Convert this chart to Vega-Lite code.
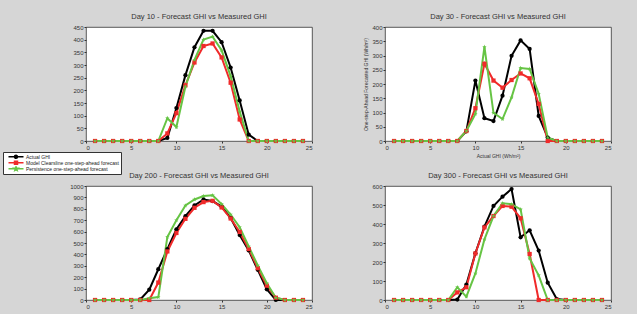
{
"$schema": "https://vega.github.io/schema/vega-lite/v6.json",
"background": "#d6d6d6",
"padding": {"left": 2, "top": 12, "right": 25, "bottom": 8},
"config": {
 "font": "Liberation Sans",
 "view": {"fill": "white", "stroke": "#333", "strokeWidth": 0.8},
 "axis": {"domain": false, "grid": false, "format": "d", "labelFontSize": 6, "labelColor": "#333", "tickColor": "#333", "tickSize": 2, "labelPadding": 1, "titleFontSize": 5, "titleFontWeight": "normal", "titleColor": "#333", "titlePadding": 3},
 "title": {"fontSize": 7.5, "fontWeight": "normal", "color": "#333", "offset": 4, "anchor": "middle"}
},
"data": {"values": [
{"day":10,"hour":1,"series":"actual","ghi":0},{"day":10,"hour":2,"series":"actual","ghi":0},{"day":10,"hour":3,"series":"actual","ghi":0},{"day":10,"hour":4,"series":"actual","ghi":0},{"day":10,"hour":5,"series":"actual","ghi":0},{"day":10,"hour":6,"series":"actual","ghi":0},{"day":10,"hour":7,"series":"actual","ghi":0},{"day":10,"hour":8,"series":"actual","ghi":0},{"day":10,"hour":9,"series":"actual","ghi":12},{"day":10,"hour":10,"series":"actual","ghi":130},{"day":10,"hour":11,"series":"actual","ghi":260},{"day":10,"hour":12,"series":"actual","ghi":370},{"day":10,"hour":13,"series":"actual","ghi":435},{"day":10,"hour":14,"series":"actual","ghi":435},{"day":10,"hour":15,"series":"actual","ghi":390},{"day":10,"hour":16,"series":"actual","ghi":290},{"day":10,"hour":17,"series":"actual","ghi":160},{"day":10,"hour":18,"series":"actual","ghi":25},{"day":10,"hour":19,"series":"actual","ghi":0},{"day":10,"hour":20,"series":"actual","ghi":0},{"day":10,"hour":21,"series":"actual","ghi":0},{"day":10,"hour":22,"series":"actual","ghi":0},{"day":10,"hour":23,"series":"actual","ghi":0},{"day":10,"hour":24,"series":"actual","ghi":0},
{"day":10,"hour":1,"series":"model","ghi":0},{"day":10,"hour":2,"series":"model","ghi":0},{"day":10,"hour":3,"series":"model","ghi":0},{"day":10,"hour":4,"series":"model","ghi":0},{"day":10,"hour":5,"series":"model","ghi":0},{"day":10,"hour":6,"series":"model","ghi":0},{"day":10,"hour":7,"series":"model","ghi":0},{"day":10,"hour":8,"series":"model","ghi":0},{"day":10,"hour":9,"series":"model","ghi":30},{"day":10,"hour":10,"series":"model","ghi":110},{"day":10,"hour":11,"series":"model","ghi":220},{"day":10,"hour":12,"series":"model","ghi":310},{"day":10,"hour":13,"series":"model","ghi":375},{"day":10,"hour":14,"series":"model","ghi":385},{"day":10,"hour":15,"series":"model","ghi":330},{"day":10,"hour":16,"series":"model","ghi":230},{"day":10,"hour":17,"series":"model","ghi":85},{"day":10,"hour":18,"series":"model","ghi":0},{"day":10,"hour":19,"series":"model","ghi":0},{"day":10,"hour":20,"series":"model","ghi":0},{"day":10,"hour":21,"series":"model","ghi":0},{"day":10,"hour":22,"series":"model","ghi":0},{"day":10,"hour":23,"series":"model","ghi":0},{"day":10,"hour":24,"series":"model","ghi":0},
{"day":10,"hour":1,"series":"persist","ghi":0},{"day":10,"hour":2,"series":"persist","ghi":0},{"day":10,"hour":3,"series":"persist","ghi":0},{"day":10,"hour":4,"series":"persist","ghi":0},{"day":10,"hour":5,"series":"persist","ghi":0},{"day":10,"hour":6,"series":"persist","ghi":0},{"day":10,"hour":7,"series":"persist","ghi":0},{"day":10,"hour":8,"series":"persist","ghi":0},{"day":10,"hour":9,"series":"persist","ghi":90},{"day":10,"hour":10,"series":"persist","ghi":55},{"day":10,"hour":11,"series":"persist","ghi":215},{"day":10,"hour":12,"series":"persist","ghi":320},{"day":10,"hour":13,"series":"persist","ghi":400},{"day":10,"hour":14,"series":"persist","ghi":412},{"day":10,"hour":15,"series":"persist","ghi":358},{"day":10,"hour":16,"series":"persist","ghi":256},{"day":10,"hour":17,"series":"persist","ghi":116},{"day":10,"hour":18,"series":"persist","ghi":0},{"day":10,"hour":19,"series":"persist","ghi":0},{"day":10,"hour":20,"series":"persist","ghi":0},{"day":10,"hour":21,"series":"persist","ghi":0},{"day":10,"hour":22,"series":"persist","ghi":0},{"day":10,"hour":23,"series":"persist","ghi":0},{"day":10,"hour":24,"series":"persist","ghi":0},
{"day":30,"hour":1,"series":"actual","ghi":0},{"day":30,"hour":2,"series":"actual","ghi":0},{"day":30,"hour":3,"series":"actual","ghi":0},{"day":30,"hour":4,"series":"actual","ghi":0},{"day":30,"hour":5,"series":"actual","ghi":0},{"day":30,"hour":6,"series":"actual","ghi":0},{"day":30,"hour":7,"series":"actual","ghi":0},{"day":30,"hour":8,"series":"actual","ghi":0},{"day":30,"hour":9,"series":"actual","ghi":34},{"day":30,"hour":10,"series":"actual","ghi":212},{"day":30,"hour":11,"series":"actual","ghi":80},{"day":30,"hour":12,"series":"actual","ghi":70},{"day":30,"hour":13,"series":"actual","ghi":159},{"day":30,"hour":14,"series":"actual","ghi":299},{"day":30,"hour":15,"series":"actual","ghi":353},{"day":30,"hour":16,"series":"actual","ghi":323},{"day":30,"hour":17,"series":"actual","ghi":88},{"day":30,"hour":18,"series":"actual","ghi":12},{"day":30,"hour":19,"series":"actual","ghi":0},{"day":30,"hour":20,"series":"actual","ghi":0},{"day":30,"hour":21,"series":"actual","ghi":0},{"day":30,"hour":22,"series":"actual","ghi":0},{"day":30,"hour":23,"series":"actual","ghi":0},{"day":30,"hour":24,"series":"actual","ghi":0},
{"day":30,"hour":1,"series":"model","ghi":0},{"day":30,"hour":2,"series":"model","ghi":0},{"day":30,"hour":3,"series":"model","ghi":0},{"day":30,"hour":4,"series":"model","ghi":0},{"day":30,"hour":5,"series":"model","ghi":0},{"day":30,"hour":6,"series":"model","ghi":0},{"day":30,"hour":7,"series":"model","ghi":0},{"day":30,"hour":8,"series":"model","ghi":0},{"day":30,"hour":9,"series":"model","ghi":35},{"day":30,"hour":10,"series":"model","ghi":115},{"day":30,"hour":11,"series":"model","ghi":271},{"day":30,"hour":12,"series":"model","ghi":212},{"day":30,"hour":13,"series":"model","ghi":187},{"day":30,"hour":14,"series":"model","ghi":214},{"day":30,"hour":15,"series":"model","ghi":237},{"day":30,"hour":16,"series":"model","ghi":220},{"day":30,"hour":17,"series":"model","ghi":130},{"day":30,"hour":18,"series":"model","ghi":0},{"day":30,"hour":19,"series":"model","ghi":0},{"day":30,"hour":20,"series":"model","ghi":0},{"day":30,"hour":21,"series":"model","ghi":0},{"day":30,"hour":22,"series":"model","ghi":0},{"day":30,"hour":23,"series":"model","ghi":0},{"day":30,"hour":24,"series":"model","ghi":0},
{"day":30,"hour":1,"series":"persist","ghi":0},{"day":30,"hour":2,"series":"persist","ghi":0},{"day":30,"hour":3,"series":"persist","ghi":0},{"day":30,"hour":4,"series":"persist","ghi":0},{"day":30,"hour":5,"series":"persist","ghi":0},{"day":30,"hour":6,"series":"persist","ghi":0},{"day":30,"hour":7,"series":"persist","ghi":0},{"day":30,"hour":8,"series":"persist","ghi":0},{"day":30,"hour":9,"series":"persist","ghi":35},{"day":30,"hour":10,"series":"persist","ghi":95},{"day":30,"hour":11,"series":"persist","ghi":330},{"day":30,"hour":12,"series":"persist","ghi":99},{"day":30,"hour":13,"series":"persist","ghi":77},{"day":30,"hour":14,"series":"persist","ghi":153},{"day":30,"hour":15,"series":"persist","ghi":256},{"day":30,"hour":16,"series":"persist","ghi":253},{"day":30,"hour":17,"series":"persist","ghi":166},{"day":30,"hour":18,"series":"persist","ghi":12},{"day":30,"hour":19,"series":"persist","ghi":0},{"day":30,"hour":20,"series":"persist","ghi":0},{"day":30,"hour":21,"series":"persist","ghi":0},{"day":30,"hour":22,"series":"persist","ghi":0},{"day":30,"hour":23,"series":"persist","ghi":0},{"day":30,"hour":24,"series":"persist","ghi":0},
{"day":200,"hour":1,"series":"actual","ghi":0},{"day":200,"hour":2,"series":"actual","ghi":0},{"day":200,"hour":3,"series":"actual","ghi":0},{"day":200,"hour":4,"series":"actual","ghi":0},{"day":200,"hour":5,"series":"actual","ghi":0},{"day":200,"hour":6,"series":"actual","ghi":5},{"day":200,"hour":7,"series":"actual","ghi":91},{"day":200,"hour":8,"series":"actual","ghi":270},{"day":200,"hour":9,"series":"actual","ghi":447},{"day":200,"hour":10,"series":"actual","ghi":620},{"day":200,"hour":11,"series":"actual","ghi":735},{"day":200,"hour":12,"series":"actual","ghi":829},{"day":200,"hour":13,"series":"actual","ghi":882},{"day":200,"hour":14,"series":"actual","ghi":868},{"day":200,"hour":15,"series":"actual","ghi":820},{"day":200,"hour":16,"series":"actual","ghi":720},{"day":200,"hour":17,"series":"actual","ghi":570},{"day":200,"hour":18,"series":"actual","ghi":435},{"day":200,"hour":19,"series":"actual","ghi":265},{"day":200,"hour":20,"series":"actual","ghi":94},{"day":200,"hour":21,"series":"actual","ghi":0},{"day":200,"hour":22,"series":"actual","ghi":0},{"day":200,"hour":23,"series":"actual","ghi":0},{"day":200,"hour":24,"series":"actual","ghi":0},
{"day":200,"hour":1,"series":"model","ghi":0},{"day":200,"hour":2,"series":"model","ghi":0},{"day":200,"hour":3,"series":"model","ghi":0},{"day":200,"hour":4,"series":"model","ghi":0},{"day":200,"hour":5,"series":"model","ghi":0},{"day":200,"hour":6,"series":"model","ghi":0},{"day":200,"hour":7,"series":"model","ghi":0},{"day":200,"hour":8,"series":"model","ghi":153},{"day":200,"hour":9,"series":"model","ghi":426},{"day":200,"hour":10,"series":"model","ghi":588},{"day":200,"hour":11,"series":"model","ghi":712},{"day":200,"hour":12,"series":"model","ghi":809},{"day":200,"hour":13,"series":"model","ghi":859},{"day":200,"hour":14,"series":"model","ghi":870},{"day":200,"hour":15,"series":"model","ghi":812},{"day":200,"hour":16,"series":"model","ghi":715},{"day":200,"hour":17,"series":"model","ghi":597},{"day":200,"hour":18,"series":"model","ghi":447},{"day":200,"hour":19,"series":"model","ghi":279},{"day":200,"hour":20,"series":"model","ghi":126},{"day":200,"hour":21,"series":"model","ghi":20},{"day":200,"hour":22,"series":"model","ghi":0},{"day":200,"hour":23,"series":"model","ghi":0},{"day":200,"hour":24,"series":"model","ghi":0},
{"day":200,"hour":1,"series":"persist","ghi":0},{"day":200,"hour":2,"series":"persist","ghi":0},{"day":200,"hour":3,"series":"persist","ghi":0},{"day":200,"hour":4,"series":"persist","ghi":0},{"day":200,"hour":5,"series":"persist","ghi":0},{"day":200,"hour":6,"series":"persist","ghi":0},{"day":200,"hour":7,"series":"persist","ghi":15},{"day":200,"hour":8,"series":"persist","ghi":26},{"day":200,"hour":9,"series":"persist","ghi":553},{"day":200,"hour":10,"series":"persist","ghi":700},{"day":200,"hour":11,"series":"persist","ghi":829},{"day":200,"hour":12,"series":"persist","ghi":882},{"day":200,"hour":13,"series":"persist","ghi":912},{"day":200,"hour":14,"series":"persist","ghi":918},{"day":200,"hour":15,"series":"persist","ghi":841},{"day":200,"hour":16,"series":"persist","ghi":750},{"day":200,"hour":17,"series":"persist","ghi":638},{"day":200,"hour":18,"series":"persist","ghi":470},{"day":200,"hour":19,"series":"persist","ghi":303},{"day":200,"hour":20,"series":"persist","ghi":147},{"day":200,"hour":21,"series":"persist","ghi":20},{"day":200,"hour":22,"series":"persist","ghi":0},{"day":200,"hour":23,"series":"persist","ghi":0},{"day":200,"hour":24,"series":"persist","ghi":0},
{"day":300,"hour":1,"series":"actual","ghi":0},{"day":300,"hour":2,"series":"actual","ghi":0},{"day":300,"hour":3,"series":"actual","ghi":0},{"day":300,"hour":4,"series":"actual","ghi":0},{"day":300,"hour":5,"series":"actual","ghi":0},{"day":300,"hour":6,"series":"actual","ghi":0},{"day":300,"hour":7,"series":"actual","ghi":0},{"day":300,"hour":8,"series":"actual","ghi":2},{"day":300,"hour":9,"series":"actual","ghi":81},{"day":300,"hour":10,"series":"actual","ghi":246},{"day":300,"hour":11,"series":"actual","ghi":386},{"day":300,"hour":12,"series":"actual","ghi":495},{"day":300,"hour":13,"series":"actual","ghi":544},{"day":300,"hour":14,"series":"actual","ghi":584},{"day":300,"hour":15,"series":"actual","ghi":330},{"day":300,"hour":16,"series":"actual","ghi":367},{"day":300,"hour":17,"series":"actual","ghi":260},{"day":300,"hour":18,"series":"actual","ghi":91},{"day":300,"hour":19,"series":"actual","ghi":5},{"day":300,"hour":20,"series":"actual","ghi":0},{"day":300,"hour":21,"series":"actual","ghi":0},{"day":300,"hour":22,"series":"actual","ghi":0},{"day":300,"hour":23,"series":"actual","ghi":0},{"day":300,"hour":24,"series":"actual","ghi":0},
{"day":300,"hour":1,"series":"model","ghi":0},{"day":300,"hour":2,"series":"model","ghi":0},{"day":300,"hour":3,"series":"model","ghi":0},{"day":300,"hour":4,"series":"model","ghi":0},{"day":300,"hour":5,"series":"model","ghi":0},{"day":300,"hour":6,"series":"model","ghi":0},{"day":300,"hour":7,"series":"model","ghi":0},{"day":300,"hour":8,"series":"model","ghi":40},{"day":300,"hour":9,"series":"model","ghi":67},{"day":300,"hour":10,"series":"model","ghi":245},{"day":300,"hour":11,"series":"model","ghi":382},{"day":300,"hour":12,"series":"model","ghi":442},{"day":300,"hour":13,"series":"model","ghi":495},{"day":300,"hour":14,"series":"model","ghi":491},{"day":300,"hour":15,"series":"model","ghi":430},{"day":300,"hour":16,"series":"model","ghi":242},{"day":300,"hour":17,"series":"model","ghi":0},{"day":300,"hour":18,"series":"model","ghi":0},{"day":300,"hour":19,"series":"model","ghi":0},{"day":300,"hour":20,"series":"model","ghi":0},{"day":300,"hour":21,"series":"model","ghi":0},{"day":300,"hour":22,"series":"model","ghi":0},{"day":300,"hour":23,"series":"model","ghi":0},{"day":300,"hour":24,"series":"model","ghi":0},
{"day":300,"hour":1,"series":"persist","ghi":0},{"day":300,"hour":2,"series":"persist","ghi":0},{"day":300,"hour":3,"series":"persist","ghi":0},{"day":300,"hour":4,"series":"persist","ghi":0},{"day":300,"hour":5,"series":"persist","ghi":0},{"day":300,"hour":6,"series":"persist","ghi":0},{"day":300,"hour":7,"series":"persist","ghi":0},{"day":300,"hour":8,"series":"persist","ghi":67},{"day":300,"hour":9,"series":"persist","ghi":18},{"day":300,"hour":10,"series":"persist","ghi":140},{"day":300,"hour":11,"series":"persist","ghi":319},{"day":300,"hour":12,"series":"persist","ghi":442},{"day":300,"hour":13,"series":"persist","ghi":509},{"day":300,"hour":14,"series":"persist","ghi":504},{"day":300,"hour":15,"series":"persist","ghi":477},{"day":300,"hour":16,"series":"persist","ghi":219},{"day":300,"hour":17,"series":"persist","ghi":130},{"day":300,"hour":18,"series":"persist","ghi":0},{"day":300,"hour":19,"series":"persist","ghi":0},{"day":300,"hour":20,"series":"persist","ghi":0},{"day":300,"hour":21,"series":"persist","ghi":0},{"day":300,"hour":22,"series":"persist","ghi":0},{"day":300,"hour":23,"series":"persist","ghi":0},{"day":300,"hour":24,"series":"persist","ghi":0}
]},
"columns": 2,
"spacing": {"row": 45, "column": 73},
"bounds": "flush",
"concat": [
 {
  "title": "Day 10 - Forecast GHI vs Measured GHI",
  "width": 226, "height": 114,
  "transform": [{"filter": "datum.day == 10"}],
  "encoding": {
   "x": {"field": "hour", "type": "quantitative", "scale": {"domain": [0, 25], "nice": false}, "axis": {"values": [0, 5, 10, 15, 20, 25], "title": null}},
   "y": {"field": "ghi", "type": "quantitative", "scale": {"domain": [0, 450], "nice": false}, "axis": {"values": [0, 50, 100, 150, 200, 250, 300, 350, 400, 450], "title": null}},
   "color": {"field": "series", "type": "nominal", "scale": {"domain": ["actual", "model", "persist"], "range": ["#000000", "#f02a2a", "#66c444"]},
    "legend": {
     "orient": "none", "legendX": -83, "legendY": 125, "title": null,
     "labelExpr": "datum.value == 'actual' ? 'Actual GHI' : datum.value == 'model' ? 'Model Clearsline one-step-ahead forecast' : 'Persistence one-step-ahead forecast'",
     "symbolSize": 25, "labelFontSize": 5, "labelColor": "#222", "labelOffset": 14, "rowPadding": 0, "clipHeight": 5.7,
     "fillColor": "white", "strokeColor": "#333", "padding": 2,
     "encode": {"symbols": {"update": {
      "shape": {"signal": "datum.value == 'actual' ? 'M0,0H6M2.4,0A0.6,0.6 0 1,0 3.6,0A0.6,0.6 0 1,0 2.4,0Z' : datum.value == 'model' ? 'M0,0H6M2.4,-0.6H3.6V0.6H2.4Z' : 'M0,0H6M3,-0.8L3.19,-0.26L3.76,-0.25L3.3,0.1L3.47,0.65L3,0.32L2.53,0.65L2.7,0.1L2.24,-0.25L2.81,-0.26Z'"},
      "fill": {"signal": "scale('color', datum.value)"},
      "stroke": {"signal": "scale('color', datum.value)"},
      "strokeWidth": {"value": 1.5},
      "opacity": {"value": 1}
     }}}
    }}
  },
  "layer": [
   {"mark": {"type": "line", "strokeWidth": 2}},
   {"transform": [{"filter": "datum.series == 'actual'"}], "mark": {"type": "point", "filled": true, "size": 18, "opacity": 1, "shape": "circle"}},
   {"transform": [{"filter": "datum.series == 'model'"}], "mark": {"type": "point", "filled": true, "size": 18, "opacity": 1, "shape": "square"}},
   {"transform": [{"filter": "datum.series == 'persist'"}], "mark": {"type": "point", "filled": true, "size": 22, "opacity": 1, "shape": "M0,-1L0.235,-0.324L0.951,-0.309L0.38,0.124L0.588,0.809L0,0.4L-0.588,0.809L-0.38,0.124L-0.951,-0.309L-0.235,-0.324Z"}}
  ]
 },
 {
  "title": "Day 30 - Forecast GHI vs Measured GHI",
  "width": 226, "height": 114,
  "transform": [{"filter": "datum.day == 30"}],
  "encoding": {
   "x": {"field": "hour", "type": "quantitative", "scale": {"domain": [0, 25], "nice": false}, "axis": {"values": [0, 5, 10, 15, 20, 25], "title": "Actual GHI (Wh/m²)"}},
   "y": {"field": "ghi", "type": "quantitative", "scale": {"domain": [0, 400], "nice": false}, "axis": {"values": [0, 50, 100, 150, 200, 250, 300, 350, 400], "title": "One-step-Ahead Forecasted GHI (Wh/m²)"}},
   "color": {"field": "series", "type": "nominal"}
  },
  "layer": [
   {"mark": {"type": "line", "strokeWidth": 2}},
   {"transform": [{"filter": "datum.series == 'actual'"}], "mark": {"type": "point", "filled": true, "size": 18, "opacity": 1, "shape": "circle"}},
   {"transform": [{"filter": "datum.series == 'model'"}], "mark": {"type": "point", "filled": true, "size": 18, "opacity": 1, "shape": "square"}},
   {"transform": [{"filter": "datum.series == 'persist'"}], "mark": {"type": "point", "filled": true, "size": 22, "opacity": 1, "shape": "M0,-1L0.235,-0.324L0.951,-0.309L0.38,0.124L0.588,0.809L0,0.4L-0.588,0.809L-0.38,0.124L-0.951,-0.309L-0.235,-0.324Z"}}
  ]
 },
 {
  "title": "Day 200 - Forecast GHI vs Measured GHI",
  "width": 226, "height": 114,
  "transform": [{"filter": "datum.day == 200"}],
  "encoding": {
   "x": {"field": "hour", "type": "quantitative", "scale": {"domain": [0, 25], "nice": false}, "axis": {"values": [0, 5, 10, 15, 20, 25], "title": null}},
   "y": {"field": "ghi", "type": "quantitative", "scale": {"domain": [0, 1000], "nice": false}, "axis": {"values": [0, 100, 200, 300, 400, 500, 600, 700, 800, 900, 1000], "title": null}},
   "color": {"field": "series", "type": "nominal"}
  },
  "layer": [
   {"mark": {"type": "line", "strokeWidth": 2}},
   {"transform": [{"filter": "datum.series == 'actual'"}], "mark": {"type": "point", "filled": true, "size": 18, "opacity": 1, "shape": "circle"}},
   {"transform": [{"filter": "datum.series == 'model'"}], "mark": {"type": "point", "filled": true, "size": 18, "opacity": 1, "shape": "square"}},
   {"transform": [{"filter": "datum.series == 'persist'"}], "mark": {"type": "point", "filled": true, "size": 22, "opacity": 1, "shape": "M0,-1L0.235,-0.324L0.951,-0.309L0.38,0.124L0.588,0.809L0,0.4L-0.588,0.809L-0.38,0.124L-0.951,-0.309L-0.235,-0.324Z"}}
  ]
 },
 {
  "title": "Day 300 - Forecast GHI vs Measured GHI",
  "width": 226, "height": 114,
  "transform": [{"filter": "datum.day == 300"}],
  "encoding": {
   "x": {"field": "hour", "type": "quantitative", "scale": {"domain": [0, 25], "nice": false}, "axis": {"values": [0, 5, 10, 15, 20, 25], "title": null}},
   "y": {"field": "ghi", "type": "quantitative", "scale": {"domain": [0, 600], "nice": false}, "axis": {"values": [0, 100, 200, 300, 400, 500, 600], "title": null}},
   "color": {"field": "series", "type": "nominal"}
  },
  "layer": [
   {"mark": {"type": "line", "strokeWidth": 2}},
   {"transform": [{"filter": "datum.series == 'actual'"}], "mark": {"type": "point", "filled": true, "size": 18, "opacity": 1, "shape": "circle"}},
   {"transform": [{"filter": "datum.series == 'model'"}], "mark": {"type": "point", "filled": true, "size": 18, "opacity": 1, "shape": "square"}},
   {"transform": [{"filter": "datum.series == 'persist'"}], "mark": {"type": "point", "filled": true, "size": 22, "opacity": 1, "shape": "M0,-1L0.235,-0.324L0.951,-0.309L0.38,0.124L0.588,0.809L0,0.4L-0.588,0.809L-0.38,0.124L-0.951,-0.309L-0.235,-0.324Z"}}
  ]
 }
]
}
